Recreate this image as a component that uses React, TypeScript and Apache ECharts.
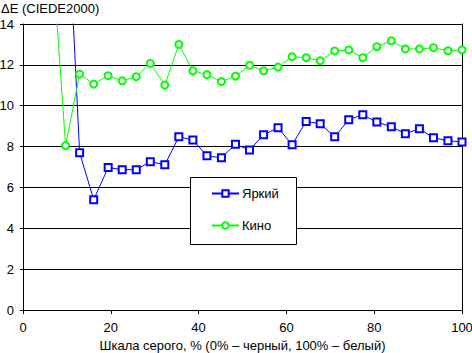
import React, { useEffect, useRef } from "react";
import * as echarts from "echarts";

const grayLevels = [0, 3.2, 6.5, 9.7, 12.9, 16.1, 19.4, 22.6, 25.8, 29.0, 32.3, 35.5, 38.7, 41.9, 45.2, 48.4, 51.6, 54.8, 58.1, 61.3, 64.5, 67.7, 71.0, 74.2, 77.4, 80.6, 83.9, 87.1, 90.3, 93.5, 96.8, 100];

const brightValues: (number | null)[] = [null, null, null, 21.8, 7.7, 5.4, 6.97, 6.87, 6.87, 7.26, 7.11, 8.48, 8.32, 7.55, 7.45, 8.11, 7.83, 8.58, 8.92, 8.09, 9.23, 9.12, 8.48, 9.31, 9.56, 9.2, 8.97, 8.63, 8.87, 8.43, 8.29, 8.22];

const cinemaValues: (number | null)[] = [null, null, 17.9, 8.05, 11.55, 11.06, 11.47, 11.22, 11.42, 12.07, 11.01, 13.0, 11.71, 11.52, 11.18, 11.45, 11.98, 11.71, 11.89, 12.4, 12.35, 12.2, 12.68, 12.73, 12.35, 12.89, 13.18, 12.78, 12.78, 12.84, 12.69, 12.73];

const seriesNames = ["Яркий", "Кино"];
const yTicks = { min: 0, max: 14, interval: 2 };
const xTicks = { min: 0, max: 100, interval: 20 };

const FONT = "Arial, 'Liberation Sans', sans-serif";

export default function App() {
  const ref = useRef<HTMLDivElement>(null);
  useEffect(() => {
    if (!ref.current) return;
    const chart = echarts.init(ref.current, null, { renderer: "svg" });
    const pair = (vals: (number | null)[]) => grayLevels.map((x, i) => [x, vals[i]]);
    chart.setOption({
      animation: false,
      backgroundColor: "#fff",
      textStyle: { fontFamily: FONT },
      title: {
        text: "ΔE (CIEDE2000)",
        left: 1,
        top: 2,
        textStyle: { fontSize: 13, fontWeight: "normal", color: "#000", fontFamily: FONT },
        padding: 0,
      },
      grid: { left: 23, top: 24, right: 10, bottom: 43, containLabel: false, outerBoundsMode: "none" },
      xAxis: {
        type: "value",
        min: xTicks.min,
        max: xTicks.max,
        interval: xTicks.interval,
        name: "Шкала серого, % (0% – черный, 100% – белый)",
        nameLocation: "middle",
        nameGap: 29,
        nameTextStyle: { fontSize: 13, color: "#000", fontFamily: FONT },
        axisLine: { show: true, lineStyle: { color: "#000", width: 1 } },
        axisTick: { show: true, length: 4, lineStyle: { color: "#000" } },
        axisLabel: { fontSize: 13, color: "#000", margin: 11, fontFamily: FONT },
        splitLine: { show: false },
      },
      yAxis: [
        {
          type: "value",
          min: yTicks.min,
          max: yTicks.max,
          interval: yTicks.interval,
          axisLine: { show: true, lineStyle: { color: "#000", width: 1 } },
          axisTick: { show: true, length: 3, lineStyle: { color: "#000" } },
          axisLabel: { fontSize: 13, color: "#000", margin: 9, fontFamily: FONT },
          splitLine: { show: true, lineStyle: { color: "#000", width: 1 } },
        },
        {
          type: "value",
          position: "right",
          min: yTicks.min,
          max: yTicks.max,
          interval: yTicks.interval,
          axisLine: { show: true, lineStyle: { color: "#000", width: 1 } },
          axisTick: { show: false },
          axisLabel: { show: false },
          splitLine: { show: false },
        },
      ],
      legend: {
        left: 211,
        top: 187,
        orient: "vertical",
        itemWidth: 27,
        itemHeight: 8,
        itemGap: 19,
        padding: 0,
        z: 20,
        textStyle: { fontSize: 13, color: "#000", fontFamily: FONT, padding: [0, 0, 0, -2] },
        data: seriesNames,
      },
      graphic: [
        {
          type: "rect",
          z: 15,
          shape: { x: 190.5, y: 177.5, width: 106, height: 67 },
          style: { fill: "#fff", stroke: "#000", lineWidth: 1 },
        },
      ],
      series: [
        {
          name: seriesNames[0],
          type: "line",
          data: pair(brightValues),
          symbol: "emptyRect",
          symbolSize: 7,
          color: "#0000ff",
          lineStyle: { color: "#0000ff", width: 1 },
          itemStyle: { color: "#0000ff", borderColor: "#0000ff", borderWidth: 1.2 },
          clip: true,
        },
        {
          name: seriesNames[1],
          type: "line",
          data: pair(cinemaValues),
          symbol: "emptyCircle",
          symbolSize: 7,
          color: "#00ff00",
          lineStyle: { color: "#00ff00", width: 1 },
          itemStyle: { color: "#00ff00", borderColor: "#00ff00", borderWidth: 1.2 },
          clip: true,
        },
      ],
    });
    return () => chart.dispose();
  }, []);
  return <div ref={ref} style={{ width: 472, height: 353, position: "absolute", left: 0, top: 0 }} />;
}
